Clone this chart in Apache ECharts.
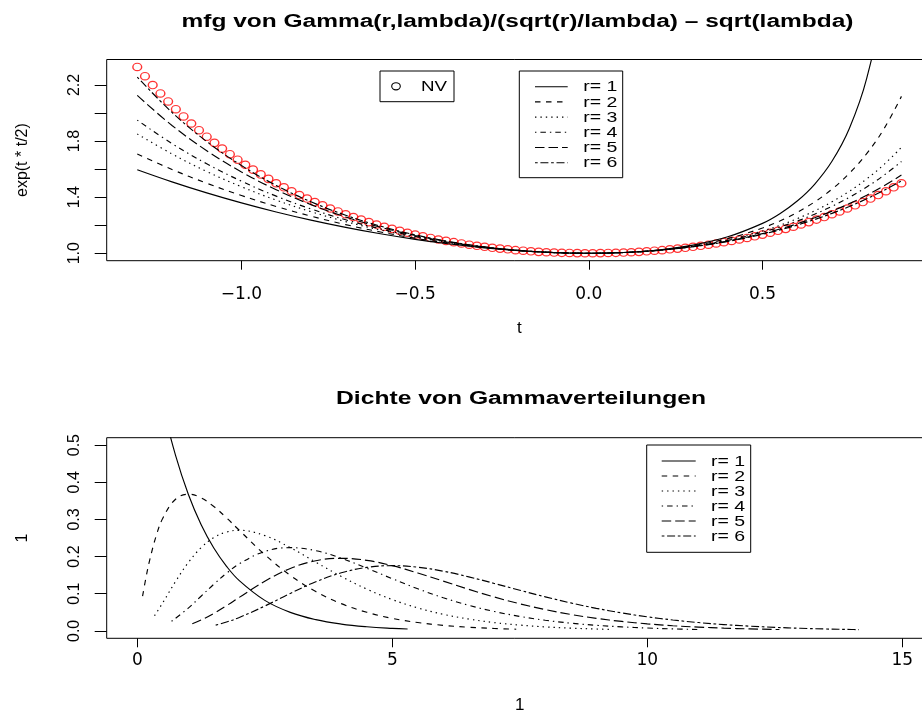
<!DOCTYPE html>
<html>
<head>
<meta charset="utf-8">
<script src="https://cdn.jsdelivr.net/npm/echarts/dist/echarts.min.js"></script>
<style>
  html, body { margin: 0; padding: 0; background: #fff; }
  #chart { width: 922px; height: 713px; }
</style>
</head>
<body>
<div id="chart"></div>
<script>
// ---- obere Grafik: mgf, Punkte NV ----
const nvT = [-1.3, -1.2778, -1.2556, -1.2333, -1.2111, -1.1889, -1.1667, -1.1444, -1.1222, -1.1,
  -1.0778, -1.0556, -1.0333, -1.0111, -0.9889, -0.9667, -0.9444, -0.9222, -0.9,
  -0.8778, -0.8556, -0.8333, -0.8111, -0.7889, -0.7667, -0.7444, -0.7222, -0.7,
  -0.6778, -0.6556, -0.6333, -0.6111, -0.5889, -0.5667, -0.5444, -0.5222, -0.5,
  -0.4778, -0.4556, -0.4333, -0.4111, -0.3889, -0.3667, -0.3444, -0.3222, -0.3,
  -0.2778, -0.2556, -0.2333, -0.2111, -0.1889, -0.1667, -0.1444, -0.1222, -0.1,
  -0.0778, -0.0556, -0.0333, -0.0111, 0.0111, 0.0333, 0.0556, 0.0778, 0.1,
  0.1222, 0.1444, 0.1667, 0.1889, 0.2111, 0.2333, 0.2556, 0.2778, 0.3,
  0.3222, 0.3444, 0.3667, 0.3889, 0.4111, 0.4333, 0.4556, 0.4778, 0.5,
  0.5222, 0.5444, 0.5667, 0.5889, 0.6111, 0.6333, 0.6556, 0.6778, 0.7,
  0.7222, 0.7444, 0.7667, 0.7889, 0.8111, 0.8333, 0.8556, 0.8778, 0.9];
const nvY = [2.328, 2.262, 2.199, 2.139, 2.082, 2.027, 1.975, 1.925, 1.877, 1.831,
  1.787, 1.746, 1.706, 1.667, 1.631, 1.596, 1.562, 1.530, 1.499, 1.470,
  1.442, 1.415, 1.390, 1.365, 1.342, 1.319, 1.298, 1.278, 1.258, 1.240,
  1.222, 1.205, 1.189, 1.174, 1.160, 1.146, 1.133, 1.121, 1.109, 1.098,
  1.088, 1.079, 1.070, 1.061, 1.053, 1.046, 1.039, 1.033, 1.028, 1.022,
  1.018, 1.014, 1.010, 1.007, 1.005, 1.003, 1.002, 1.001, 1.000,
  1.000, 1.001, 1.002, 1.003, 1.005, 1.007, 1.010, 1.014, 1.018, 1.022,
  1.028, 1.033, 1.039, 1.046, 1.053, 1.061, 1.070, 1.079, 1.088, 1.098,
  1.109, 1.121, 1.133, 1.146, 1.160, 1.174, 1.189, 1.205, 1.222, 1.240,
  1.258, 1.278, 1.298, 1.319, 1.342, 1.365, 1.390, 1.415, 1.442, 1.470, 1.499];

const curveT = [-1.3, -1.2, -1.1, -1.0, -0.9, -0.8, -0.7, -0.6, -0.5, -0.4, -0.3, -0.2, -0.1, 0,
  0.1, 0.2, 0.3, 0.4, 0.5, 0.55, 0.6, 0.65, 0.7, 0.75, 0.8, 0.85, 0.9];
const mgf1 = [1.5954, 1.5091, 1.4306, 1.3591, 1.2945, 1.2364, 1.1846, 1.1388, 1.0991, 1.0656, 1.0384, 1.0178, 1.0047, 1,
  1.0054, 1.0234, 1.0583, 1.1172, 1.2131, 1.2821, 1.3720, 1.4916, 1.6553, 1.8895, 2.2466, 2.8494, 4.0657];
const mgf2 = [1.7068, 1.5972, 1.4991, 1.4115, 1.3335, 1.2646, 1.2041, 1.1517, 1.1070, 1.0699, 1.0403, 1.0185, 1.0048, 1,
  1.0053, 1.0224, 1.0540, 1.1043, 1.1799, 1.2302, 1.2914, 1.3658, 1.4570, 1.5696, 1.7102, 1.8884, 2.1182];
const mgf3 = [1.8504, 1.7079, 1.5830, 1.4738, 1.3788, 1.2965, 1.2257, 1.1655, 1.1152, 1.0742, 1.0422, 1.0191, 1.0049, 1,
  1.0052, 1.0215, 1.0507, 1.0953, 1.1589, 1.1993, 1.2467, 1.3020, 1.3665, 1.4418, 1.5299, 1.6333, 1.7550];
const mgf4 = [1.9490, 1.7820, 1.6379, 1.5137, 1.4071, 1.3160, 1.2386, 1.1736, 1.1199, 1.0766, 1.0433, 1.0194, 1.0049, 1,
  1.0051, 1.0211, 1.0492, 1.0914, 1.1502, 1.1870, 1.2295, 1.2783, 1.3344, 1.3987, 1.4723, 1.5568, 1.6539];
const mgf5 = [2.1253, 1.9111, 1.7311, 1.5799, 1.4530, 1.3468, 1.2585, 1.1858, 1.1268, 1.0802, 1.0447, 1.0198, 1.0050, 1,
  1.0051, 1.0206, 1.0474, 1.0867, 1.1402, 1.1730, 1.2103, 1.2525, 1.3002, 1.3537, 1.4140, 1.4816, 1.5574];
const mgf6 = [2.2560, 2.0042, 1.7965, 1.6251, 1.4836, 1.3669, 1.2713, 1.1934, 1.1311, 1.0823, 1.0456, 1.0201, 1.0050, 1,
  1.0050, 1.0203, 1.0465, 1.0843, 1.1353, 1.1662, 1.2012, 1.2404, 1.2843, 1.3334, 1.3880, 1.4487, 1.5162];

// ---- untere Grafik: Gammadichten ----
const dens1X = [0.005, 0.25, 0.5, 0.75, 1, 1.25, 1.5, 1.75, 2, 2.5, 3, 3.5, 4, 4.5, 5, 5.3];
const dens1Y = [0.995, 0.7788, 0.6065, 0.4724, 0.3679, 0.2865, 0.2231, 0.1738, 0.1353, 0.0821, 0.0498, 0.0302, 0.0183, 0.0111, 0.0067, 0.0050];
const dens2X = [0.1035, 0.175, 0.25, 0.375, 0.5, 0.75, 1, 1.25, 1.5, 1.75, 2, 2.5, 3, 3.5, 4, 4.5, 5, 5.5, 6, 6.5, 7, 7.43];
const dens2Y = [0.0933, 0.1469, 0.1947, 0.2577, 0.3033, 0.3543, 0.3679, 0.3581, 0.3347, 0.3041, 0.2707, 0.2052, 0.1494, 0.1057, 0.0733, 0.0500, 0.0337, 0.0225, 0.0149, 0.0098, 0.0064, 0.0044];
const dens3X = [0.338, 0.5, 0.75, 1, 1.25, 1.5, 1.75, 2, 2.5, 3, 3.5, 4, 4.5, 5, 5.5, 6, 6.5, 7, 7.5, 8, 8.5, 9, 9.27];
const dens3Y = [0.0407, 0.0758, 0.1329, 0.1839, 0.2238, 0.2510, 0.2661, 0.2707, 0.2565, 0.2240, 0.1850, 0.1465, 0.1125, 0.0842, 0.0618, 0.0446, 0.0318, 0.0223, 0.0156, 0.0107, 0.0073, 0.0050, 0.0040];
const dens4X = [0.672, 1, 1.25, 1.5, 1.75, 2, 2.5, 3, 3.5, 4, 4.5, 5, 5.5, 6, 6.5, 7, 7.5, 8, 8.5, 9, 9.5, 10, 10.5, 10.98];
const dens4Y = [0.0258, 0.0613, 0.0933, 0.1255, 0.1552, 0.1804, 0.2138, 0.2240, 0.2158, 0.1954, 0.1687, 0.1404, 0.1133, 0.0892, 0.0688, 0.0521, 0.0389, 0.0286, 0.0208, 0.0150, 0.0107, 0.0076, 0.0053, 0.0038];
const dens5X = [1.078, 1.25, 1.5, 1.75, 2, 2.5, 3, 3.5, 4, 4.5, 5, 5.5, 6, 6.5, 7, 7.5, 8, 8.5, 9, 9.5, 10, 10.5, 11, 11.5, 12, 12.59];
const dens5Y = [0.0191, 0.0291, 0.0471, 0.0679, 0.0902, 0.1336, 0.1680, 0.1888, 0.1954, 0.1898, 0.1755, 0.1558, 0.1339, 0.1118, 0.0912, 0.0729, 0.0573, 0.0443, 0.0337, 0.0254, 0.0189, 0.0139, 0.0102, 0.0074, 0.0053, 0.0036];
const dens6X = [1.537, 1.75, 2, 2.5, 3, 3.5, 4, 4.5, 5, 5.5, 6, 6.5, 7, 7.5, 8, 8.5, 9, 9.5, 10, 10.5, 11, 11.5, 12, 12.5, 13, 13.5, 14, 14.15];
const dens6Y = [0.0154, 0.0238, 0.0361, 0.0668, 0.1008, 0.1322, 0.1563, 0.1708, 0.1755, 0.1714, 0.1606, 0.1454, 0.1277, 0.1094, 0.0916, 0.0752, 0.0607, 0.0483, 0.0378, 0.0293, 0.0224, 0.0170, 0.0127, 0.0095, 0.0070, 0.0051, 0.0037, 0.0034];

// ---- Achsen ----
const topXTicks = [-1, -0.5, 0, 0.5];
const topXLabels = ['\u22121.0', '\u22120.5', '0.0', '0.5'];
const topYTicks = [1.0, 1.2, 1.4, 1.6, 1.8, 2.0, 2.2];
const topYLabelVals = [1.0, 1.4, 1.8, 2.2];
const topYLabels = ['1.0', '1.4', '1.8', '2.2'];
const botXTicks = [0, 5, 10, 15];
const botXLabels = ['0', '5', '10', '15'];
const botYTicks = [0, 0.1, 0.2, 0.3, 0.4, 0.5];
const botYLabels = ['0.0', '0.1', '0.2', '0.3', '0.4', '0.5'];
const legendLabels = ['r= 1', 'r= 2', 'r= 3', 'r= 4', 'r= 5', 'r= 6'];

const dashes = ['solid', [5.5, 5.5], [1.4, 4], [1.4, 4, 5.5, 4], [9.5, 4], [2.7, 2.7, 8, 2.7]];

const chart = echarts.init(document.getElementById('chart'));

function lbl(ticks, labels) {
    return v => {
        const i = ticks.findIndex(t => Math.abs(t - v) < 1e-9);
        return i >= 0 ? labels[i] : '';
    };
}
const pairs = (xs, ys) => xs.map((x, i) => [x, ys[i]]);

const sans = 'Liberation Sans';
function xAxisCfg(grid, min, max, ticks, labels, margin, name) {
    return {
        gridIndex: grid, type: 'value', min: min, max: max,
        axisLine: { show: false, onZero: false },
        splitLine: { show: false },
        axisTick: { customValues: ticks, length: 9, lineStyle: { color: '#000', width: 1 } },
        axisLabel: { customValues: ticks, formatter: lbl(ticks, labels), margin: margin,
            color: '#000', fontFamily: 'DejaVu Sans', fontSize: 17 },
        name: name, nameLocation: 'middle', nameGap: 59,
        nameTextStyle: { color: '#000', fontFamily: sans, fontSize: 17 }
    };
}
function yAxisCfg(grid, min, max, ticks, labelVals, labels, name) {
    return {
        gridIndex: grid, type: 'value', min: min, max: max,
        axisLine: { show: false, onZero: false },
        splitLine: { show: false },
        axisTick: { customValues: ticks, length: 12, lineStyle: { color: '#000', width: 1 } },
        axisLabel: { customValues: labelVals, formatter: lbl(labelVals, labels), rotate: 90, margin: 24,
            color: '#000', fontFamily: sans, fontSize: 16 },
        name: name, nameLocation: 'middle', nameRotate: 90, nameGap: 76,
        nameTextStyle: { color: '#000', fontFamily: sans, fontSize: 16 }
    };
}

const topCurves = [mgf1, mgf2, mgf3, mgf4, mgf5, mgf6];
const densX = [dens1X, dens2X, dens3X, dens4X, dens5X, dens6X];
const densY = [dens1Y, dens2Y, dens3Y, dens4Y, dens5Y, dens6Y];

const series = [{
    type: 'scatter', xAxisIndex: 0, yAxisIndex: 0,
    data: pairs(nvT, nvY),
    symbol: 'circle', symbolSize: [8.8, 7.4],
    itemStyle: { color: 'rgba(0,0,0,0)', borderColor: '#ff0000', borderWidth: 1.3 },
    z: 2
}];
topCurves.forEach((ys, i) => series.push({
    type: 'line', xAxisIndex: 0, yAxisIndex: 0, data: pairs(curveT, ys),
    showSymbol: false, symbol: 'none', smooth: 0.4, clip: true,
    lineStyle: { color: '#000', width: 1.15, type: dashes[i] }, z: 3
}));
densX.forEach((xs, i) => series.push({
    type: 'line', xAxisIndex: 1, yAxisIndex: 1, data: pairs(xs, densY[i]),
    showSymbol: false, symbol: 'none', smooth: 0.4, clip: true,
    lineStyle: { color: '#000', width: 1.15, type: dashes[i] }, z: 3
}));

// Legenden und Titel als Grafik (Text horizontal gestreckt wie im Original)
const graphic = [];
function addText(x, y, text, opts) {
    graphic.push({
        type: 'text', x: x, y: y, scaleX: opts.scaleX || 1.3, z: 100,
        style: {
            text: text, fill: '#000',
            font: (opts.bold ? 'bold ' : '') + (opts.size || 15) + 'px "' + sans + '"',
            align: opts.align || 'left', textAlign: opts.align || 'left',
            verticalAlign: 'middle', textVerticalAlign: 'middle'
        }
    });
}
function addLegend(bx, by, bw, bh, lx1, lx2, tx, ry0, rdy) {
    graphic.push({ type: 'rect', z: 100, shape: { x: bx, y: by, width: bw, height: bh },
        style: { fill: '#fff', stroke: '#000', lineWidth: 1 } });
    legendLabels.forEach((s, i) => {
        const y = ry0 + i * rdy;
        graphic.push({ type: 'line', z: 101, shape: { x1: lx1, y1: y, x2: lx2, y2: y },
            style: { stroke: '#000', lineWidth: 1.1, lineDash: dashes[i] === 'solid' ? null : dashes[i] } });
        addText(tx, y + 0.5, s, { scaleX: 1.3 });
    });
}

addText(517.5, 22.5, 'mfg von Gamma(r,lambda)/(sqrt(r)/lambda) \u2013 sqrt(lambda)', { bold: true, size: 18, align: 'center', scaleX: 1.36 });
addText(521, 399, 'Dichte von Gammaverteilungen', { bold: true, size: 18, align: 'center', scaleX: 1.37 });

// NV-Legende
graphic.push({ type: 'rect', z: 100, shape: { x: 380, y: 71, width: 74, height: 30.7 },
    style: { fill: '#fff', stroke: '#000', lineWidth: 1 } });
graphic.push({ type: 'ellipse', z: 101, shape: { cx: 396, cy: 86.3, rx: 4.3, ry: 3.6 },
    style: { fill: 'none', stroke: '#000', lineWidth: 1.1 } });
addText(421, 86.8, 'NV', { scaleX: 1.25 });

addLegend(519.3, 71, 103.4, 106.7, 535, 567.7, 583.3, 86.7, 15.2);
addLegend(646.7, 445, 104, 107.3, 661.7, 695.7, 711, 461, 15);

const option = {
    animation: false,
    backgroundColor: '#fff',
    grid: [
        { left: 106.7, top: 59.5, width: 825.3, height: 201.2, show: true, containLabel: false,
          outerBoundsMode: 'none',
          borderColor: '#000', borderWidth: 1, backgroundColor: 'rgba(0,0,0,0)' },
        { left: 106.7, top: 437.7, width: 826.2, height: 200.6, show: true, containLabel: false,
          outerBoundsMode: 'none',
          borderColor: '#000', borderWidth: 1, backgroundColor: 'rgba(0,0,0,0)' }
    ],
    xAxis: [
        xAxisCfg(0, -1.388, 0.988, topXTicks, topXLabels, 25, 't'),
        xAxisCfg(1, -0.6, 15.6, botXTicks, botXLabels, 14, '1')
    ],
    yAxis: [
        yAxisCfg(0, 0.9469, 2.3811, topYTicks, topYLabelVals, topYLabels, 'exp(t * t/2)'),
        yAxisCfg(1, -0.02, 0.52, botYTicks, botYTicks, botYLabels, '1')
    ],
    series: series,
    graphic: graphic
};
chart.setOption(option);
</script>
</body>
</html>
